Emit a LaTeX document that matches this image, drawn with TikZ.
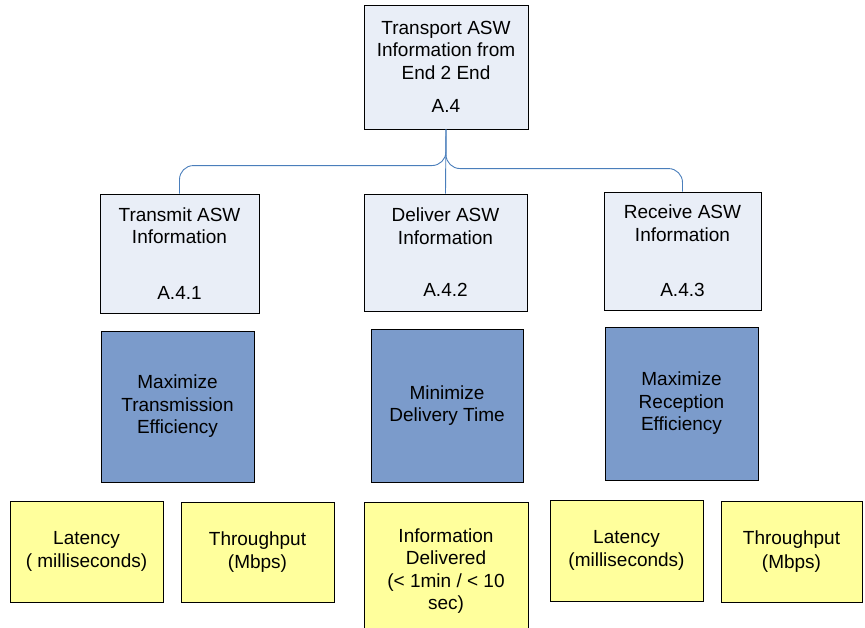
\documentclass[tikz,border=0pt]{standalone}
\usepackage{fontspec}
\setmainfont{Liberation Sans}
\usetikzlibrary{shadows}
\definecolor{paleBlue}{HTML}{E9EEF7}
\definecolor{goalBlue}{HTML}{7B9BCB}
\definecolor{metricYellow}{HTML}{FFFF9C}
\definecolor{linkBlue}{HTML}{4A7EBB}

\begin{document}
\begin{tikzpicture}[x=1pt,y=-1pt,
  box/.style={draw=black,line width=0.9pt,align=center,inner sep=0pt,
    font=\fontsize{19}{22.5}\selectfont,
    drop shadow={shadow xshift=1.2pt,shadow yshift=-1.2pt,opacity=.35,fill=gray}},
  func/.style={box,fill=paleBlue},
  goal/.style={box,fill=goalBlue},
  metric/.style={box,fill=metricYellow},
  link/.style={draw=linkBlue,line width=0.9pt,rounded corners=14pt}]
  \useasboundingbox (0,0) rectangle (865,627);
  % functions
  \node[func,minimum width=164pt,minimum height=124pt] (top) at (446,67)
    {Transport ASW\\Information from\\End 2 End\\[11pt]A.4};
  \node[func,minimum width=159pt,minimum height=119pt] (tx) at (179.5,253.5)
    {Transmit ASW\\Information\\[33pt]A.4.1};
  \node[func,minimum width=163pt,minimum height=117pt] (dl) at (445.5,252.5)
    {Deliver ASW\\Information\\[30pt]A.4.2};
  \node[func,minimum width=157pt,minimum height=118pt] (rx) at (682.5,251)
    {Receive ASW\\Information\\[33pt]A.4.3};
  % links
  \draw[link] (top.south) |- ([yshift=28pt]tx.north) -- (tx.north);
  \draw[link] (top.south) -- (dl.north);
  \draw[link] (top.south) |- ([yshift=23pt]rx.north) -- (rx.north);
  % goals
  \node[goal,minimum width=153pt,minimum height=151pt] (gtx) at (177.5,406.5)
    {Maximize\\Transmission\\Efficiency};
  \node[goal,minimum width=152pt,minimum height=153pt] (gdl) at (447,405.5)
    {Minimize\\Delivery Time};
  \node[goal,minimum width=153pt,minimum height=153pt] (grx) at (681.5,403.5)
    {Maximize\\Reception\\Efficiency};
  % metrics
  \node[metric,minimum width=153pt,minimum height=101pt] (mlat1) at (86.5,551.5)
    {Latency\\( milliseconds)};
  \node[metric,minimum width=153pt,minimum height=100pt] (mthr1) at (257.5,552)
    {Throughput\\(Mbps)};
  \node[metric,minimum width=164pt,minimum height=138pt] (mdel) at (446,571)
    {Information\\Delivered\\(< 1min / < 10\\sec)};
  \node[metric,minimum width=153pt,minimum height=101pt] (mlat2) at (626.5,550.5)
    {Latency\\(milliseconds)};
  \node[metric,minimum width=141pt,minimum height=101pt] (mthr2) at (791.5,551.5)
    {Throughput\\[2pt](Mbps)};
\end{tikzpicture}
\end{document}
